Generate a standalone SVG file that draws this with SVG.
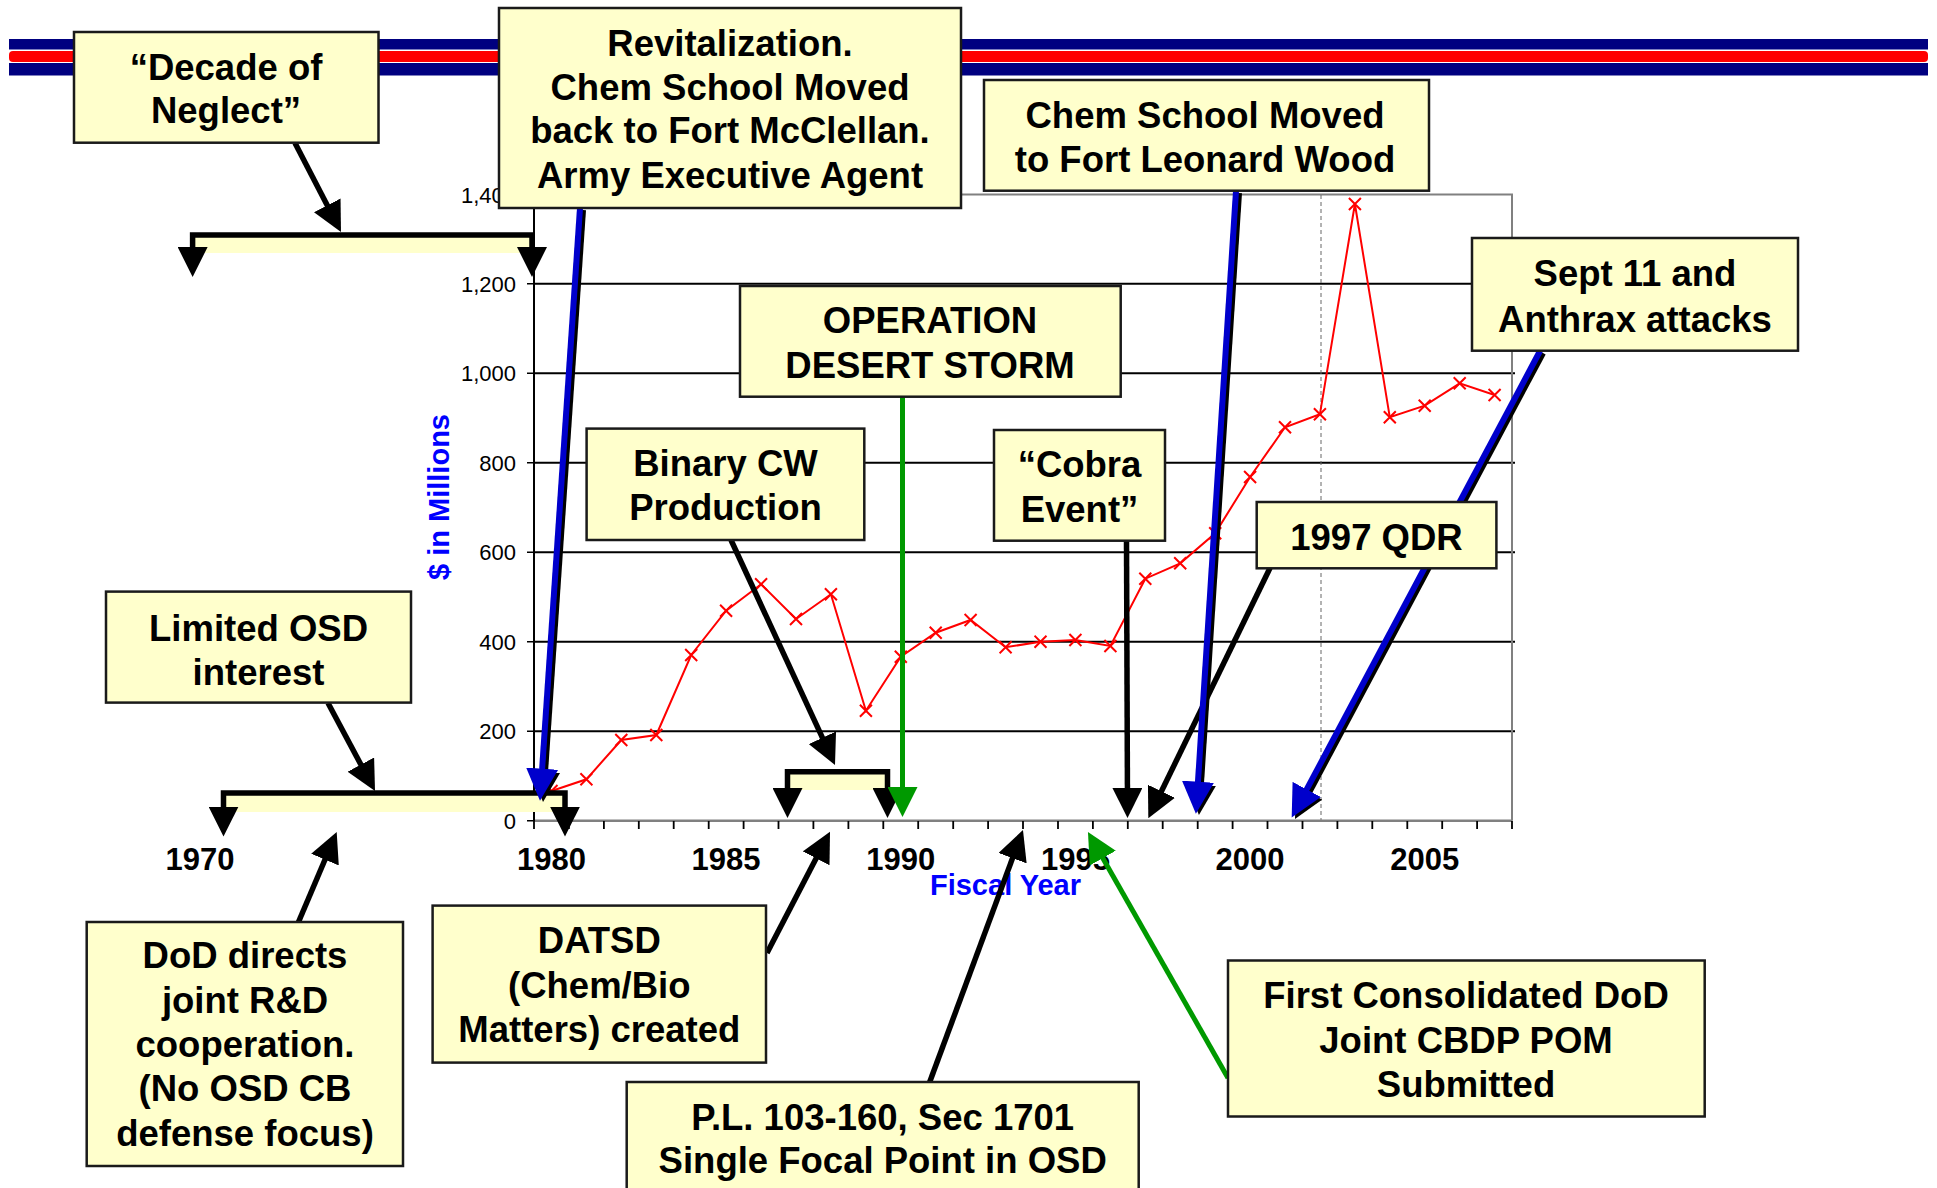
<svg xmlns="http://www.w3.org/2000/svg" width="1937" height="1188" viewBox="0 0 1937 1188">
<style>
.box{fill:#FFFFCC;stroke:#1a1a1a;stroke-width:2.5}
.bt{font-family:"Liberation Sans",Arial,sans-serif;font-weight:bold;font-size:36.5px;fill:#000;text-anchor:middle}
.yl{font-family:"Liberation Sans",Arial,sans-serif;font-size:22px;fill:#000;text-anchor:end}
.xl{font-family:"Liberation Sans",Arial,sans-serif;font-weight:bold;font-size:31px;fill:#000;text-anchor:middle}
.at{font-family:"Liberation Sans",Arial,sans-serif;font-weight:bold;font-size:29px;fill:#0000FF;text-anchor:middle}
.grid{stroke:#000;stroke-width:2}
.blk{fill:none;stroke:#000;stroke-width:5.5;marker-end:url(#ahk)}
.blu{fill:none;stroke:#0000CC;stroke-width:6;marker-end:url(#ahb)}
.shd{fill:none;stroke:#000;stroke-width:6;marker-end:url(#ahk)}
.grn{fill:none;stroke:#009900;stroke-width:5;marker-end:url(#ahg)}
.brk{fill:none;stroke:#000;stroke-width:5.5;marker-start:url(#ahk);marker-end:url(#ahk)}
.bfill{fill:#FFFFCC}
</style>
<defs>
<marker id="ahk" viewBox="0 0 30 30" refX="20" refY="15" markerWidth="30" markerHeight="30" markerUnits="userSpaceOnUse" orient="auto-start-reverse"><path d="M0,0 L30,15 L0,30 z" fill="#000"/></marker>
<marker id="ahb" viewBox="0 0 30 30" refX="20" refY="15" markerWidth="32" markerHeight="32" markerUnits="userSpaceOnUse" orient="auto"><path d="M0,0 L30,15 L0,30 z" fill="#0000CC"/></marker>
<marker id="ahg" viewBox="0 0 30 30" refX="20" refY="15" markerWidth="30" markerHeight="30" markerUnits="userSpaceOnUse" orient="auto"><path d="M0,0 L30,15 L0,30 z" fill="#009900"/></marker>
<marker id="xm" viewBox="-7 -7 14 14" refX="0" refY="0" markerWidth="14" markerHeight="14" markerUnits="userSpaceOnUse" orient="0"><path d="M-6,-6 L6,6 M-6,6 L6,-6" stroke="#FF0000" stroke-width="2" fill="none"/></marker>
</defs>
<rect width="1937" height="1188" fill="#fff"/>
<g id="header-stripes">
<rect x="9" y="39" width="1919" height="10.5" fill="#000080"/>
<rect x="9" y="51" width="1919" height="11" rx="4" fill="#FF0000"/>
<rect x="9" y="63" width="1919" height="12.5" fill="#000080"/>
</g>
<g id="chart">
<g class="grid">
<line x1="534" y1="731.2" x2="1515" y2="731.2"/>
<line x1="534" y1="641.7" x2="1515" y2="641.7"/>
<line x1="534" y1="552.2" x2="1515" y2="552.2"/>
<line x1="534" y1="462.7" x2="1515" y2="462.7"/>
<line x1="534" y1="373.2" x2="1515" y2="373.2"/>
<line x1="534" y1="283.7" x2="1515" y2="283.7"/>
</g>
<path d="M534,194.5 H1512 V820.7" fill="none" stroke="#808080" stroke-width="2"/>
<line x1="1321" y1="195" x2="1321" y2="820" stroke="#666" stroke-width="1" stroke-dasharray="4,3"/>
<line x1="534" y1="820.7" x2="1512" y2="820.7" stroke="#808080" stroke-width="2.5"/>
<line x1="534" y1="194.5" x2="534" y2="821" stroke="#000" stroke-width="2"/>
<path d="M527,820.7H534M527,731.2H534M527,641.7H534M527,552.2H534M527,462.7H534M527,373.2H534M527,283.7H534M527,194.5H534" stroke="#000" stroke-width="1.5"/>
<path d="M534,821v8M568.9,821v8M603.9,821v8M638.8,821v8M673.7,821v8M708.7,821v8M743.6,821v8M778.5,821v8M813.4,821v8M848.4,821v8M883.3,821v8M918.2,821v8M953.2,821v8M988.1,821v8M1023,821v8M1058,821v8M1092.9,821v8M1127.8,821v8M1162.7,821v8M1197.7,821v8M1232.6,821v8M1267.5,821v8M1302.5,821v8M1337.4,821v8M1372.3,821v8M1407.3,821v8M1442.2,821v8M1477.1,821v8M1512,821v8" stroke="#000" stroke-width="1.8"/>
<text class="yl" x="516" y="828.7">0</text>
<text class="yl" x="516" y="739.2">200</text>
<text class="yl" x="516" y="649.7">400</text>
<text class="yl" x="516" y="560.2">600</text>
<text class="yl" x="516" y="470.7">800</text>
<text class="yl" x="516" y="381.2">1,000</text>
<text class="yl" x="516" y="291.7">1,200</text>
<text class="yl" x="516" y="202.5">1,400</text>
<text class="at" transform="translate(449,497) rotate(-90)">$ in Millions</text>
<text class="xl" x="200" y="870">1970</text>
<text class="xl" x="551.5" y="870">1980</text>
<text class="xl" x="726.1" y="870">1985</text>
<text class="xl" x="900.8" y="870">1990</text>
<text class="xl" x="1075.4" y="870">1995</text>
<text class="xl" x="1250.1" y="870">2000</text>
<text class="xl" x="1424.7" y="870">2005</text>
<text class="at" x="1005.5" y="895">Fiscal Year</text>
<polyline fill="none" stroke="#FF0000" stroke-width="2" marker-start="url(#xm)" marker-mid="url(#xm)" marker-end="url(#xm)" points="551.5,791 586.4,779.3 621.3,740 656.3,735 691.2,655 726.1,610.7 761.1,584.3 796,619 830.9,594.3 865.9,710.7 900.8,656.7 935.7,632.7 970.6,620 1005.6,647.3 1040.5,641.7 1075.4,640 1110.4,646 1145.3,578.7 1180.2,563.3 1215.2,533.3 1250.1,477 1285,427.3 1319.9,414.3 1354.9,204 1389.8,417.3 1424.7,405.7 1459.7,383.3 1494.6,395"/>
</g>
<g id="brackets">
<g id="bracket-decade">
<rect class="bfill" x="195" y="237" width="335" height="16"/>
<path class="brk" d="M192.6,267 V235 H532 V267"/>
</g>
<g id="bracket-limited">
<rect class="bfill" x="226" y="795" width="337" height="17"/>
<path class="brk" d="M223.5,826.6 V793 H565 V826.6"/>
</g>
<g id="bracket-binary">
<rect class="bfill" x="790" y="774" width="95" height="16"/>
<path class="brk" d="M787.5,808 V771.7 H887.5 V808"/>
</g>
</g>
<g id="connectors">
<path class="blk" d="M295,143 L336.4,223.1"/>
<path class="blk" d="M328,703 L370.3,782.2"/>
<path class="blk" d="M298.5,922 L332.8,841.2"/>
<path class="blk" d="M731,540 L830.8,755.9"/>
<path class="blk" d="M767,953 L825.4,840.6"/>
<path class="blk" d="M929.7,1082 L1019.5,839.4"/>
<path class="blk" d="M1126.5,541 L1127.5,808"/>
<path class="blk" d="M1270,568 L1152.7,809.3"/>
<g transform="translate(3,2)">
<path class="shd" d="M580,208 L540.7,790"/>
<path class="shd" d="M1236,191 L1196.6,803"/>
<path class="shd" d="M1540,351 L1296.7,808.2"/>
</g>
<path class="blu" d="M580,208 L540.7,790"/>
<path class="blu" d="M1236,191 L1196.6,803"/>
<path class="blu" d="M1540,351 L1296.7,808.2"/>
<path class="grn" d="M902.5,397 L902.5,807"/>
<path class="grn" d="M1228,1078 L1092.9,840.7"/>
</g>
<g id="node-decade">
<rect class="box" x="74" y="32" width="304.5" height="110.7"/>
<text class="bt" x="226" y="80">“Decade of</text>
<text class="bt" x="226" y="123.3">Neglect”</text>
</g>
<g id="node-revitalization">
<rect class="box" x="499" y="8" width="462" height="200"/>
<text class="bt" x="730" y="56">Revitalization.</text>
<text class="bt" x="730" y="100">Chem School Moved</text>
<text class="bt" x="730" y="143.3">back to Fort McClellan.</text>
<text class="bt" x="730" y="188.3">Army Executive Agent</text>
</g>
<g id="node-leonard-wood">
<rect class="box" x="984" y="80" width="445" height="110.7"/>
<text class="bt" x="1205" y="128.3">Chem School Moved</text>
<text class="bt" x="1205" y="171.7">to Fort Leonard Wood</text>
</g>
<g id="node-sept11">
<rect class="box" x="1472" y="238" width="326" height="112.7"/>
<text class="bt" x="1635" y="286">Sept 11 and</text>
<text class="bt" x="1635" y="331.7">Anthrax attacks</text>
</g>
<g id="node-desert-storm">
<rect class="box" x="740" y="286" width="380.7" height="110.7"/>
<text class="bt" x="930" y="333.3">OPERATION</text>
<text class="bt" x="930" y="378.3">DESERT STORM</text>
</g>
<g id="node-binary">
<rect class="box" x="586.6" y="428.6" width="277.7" height="111.4"/>
<text class="bt" x="725.5" y="476">Binary CW</text>
<text class="bt" x="725.5" y="520">Production</text>
</g>
<g id="node-cobra">
<rect class="box" x="994" y="430" width="171" height="110.7"/>
<text class="bt" x="1079.5" y="476.7">“Cobra</text>
<text class="bt" x="1079.5" y="521.7">Event”</text>
</g>
<g id="node-qdr">
<rect class="box" x="1256.7" y="502" width="239.7" height="66.3"/>
<text class="bt" x="1376.5" y="550">1997 QDR</text>
</g>
<g id="node-limited-osd">
<rect class="box" x="106" y="591.6" width="305" height="111"/>
<text class="bt" x="258.5" y="641">Limited OSD</text>
<text class="bt" x="258.5" y="684.6">interest</text>
</g>
<g id="node-dod-directs">
<rect class="box" x="86.7" y="922" width="316.3" height="244"/>
<text class="bt" x="245" y="967.6">DoD directs</text>
<text class="bt" x="245" y="1013">joint R&amp;D</text>
<text class="bt" x="245" y="1056.7">cooperation.</text>
<text class="bt" x="245" y="1101">(No OSD CB</text>
<text class="bt" x="245" y="1146">defense focus)</text>
</g>
<g id="node-datsd">
<rect class="box" x="432.6" y="905.6" width="333.4" height="157"/>
<text class="bt" x="599.3" y="952.9">DATSD</text>
<text class="bt" x="599.3" y="997.8">(Chem/Bio</text>
<text class="bt" x="599.3" y="1042">Matters) created</text>
</g>
<g id="node-pl">
<rect class="box" x="626.7" y="1082" width="512" height="130"/>
<text class="bt" x="882.7" y="1130">P.L. 103-160, Sec 1701</text>
<text class="bt" x="882.7" y="1173.3">Single Focal Point in OSD</text>
</g>
<g id="node-first-pom">
<rect class="box" x="1228" y="960.5" width="476.7" height="156"/>
<text class="bt" x="1466" y="1007.7">First Consolidated DoD</text>
<text class="bt" x="1466" y="1053.3">Joint CBDP POM</text>
<text class="bt" x="1466" y="1096.7">Submitted</text>
</g>
</svg>
